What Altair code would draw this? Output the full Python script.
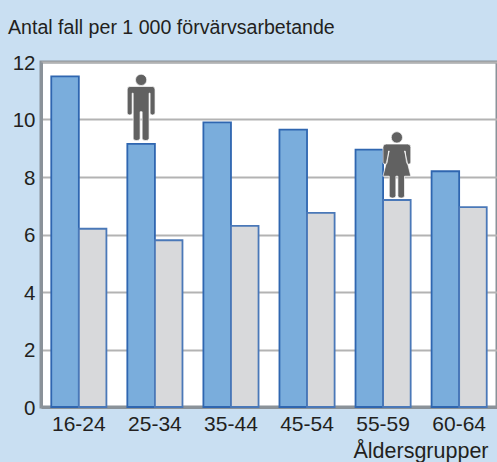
import altair as alt
import pandas as pd

ages = ["16-24", "25-34", "35-44", "45-54", "55-59", "60-64"]
men = [11.5, 9.15, 9.9, 9.65, 8.95, 8.2]
women = [6.2, 5.8, 6.3, 6.75, 7.2, 6.95]
series = ["Män", "Kvinnor"]
BG = "#c9dff2"
FONT = "Liberation Sans"
TXT = "#231f20"

MAN = ("M0,-1 A0.17,0.17 0 1,1 0,-0.66 A0.17,0.17 0 1,1 0,-1 Z "
       "M-0.34,-0.63 L0.34,-0.63 Q0.42,-0.63 0.42,-0.53 L0.42,0.17 Q0.42,0.23 0.34,0.23 Q0.27,0.23 0.27,0.17 "
       "L0.27,-0.43 L0.24,-0.43 L0.24,0.93 Q0.24,1 0.14,1 Q0.03,1 0.03,0.93 L0.03,0.13 L-0.03,0.13 L-0.03,0.93 "
       "Q-0.03,1 -0.14,1 Q-0.24,1 -0.24,0.93 L-0.24,-0.43 L-0.27,-0.43 L-0.27,0.17 Q-0.27,0.23 -0.34,0.23 "
       "Q-0.42,0.23 -0.42,0.17 L-0.42,-0.53 Q-0.42,-0.63 -0.34,-0.63 Z")
WOMAN = ("M0,-1 A0.17,0.17 0 1,1 0,-0.66 A0.17,0.17 0 1,1 0,-1 Z "
         "M-0.32,-0.63 L0.32,-0.63 Q0.42,-0.63 0.42,-0.53 L0.42,-0.08 Q0.42,-0.02 0.35,-0.02 Q0.3,-0.02 0.29,-0.08 "
         "L0.25,-0.42 L0.23,-0.42 L0.42,0.34 L0.23,0.34 L0.23,0.93 Q0.23,1 0.13,1 Q0.03,1 0.03,0.93 L0.03,0.34 "
         "L-0.03,0.34 L-0.03,0.93 Q-0.03,1 -0.13,1 Q-0.23,1 -0.23,0.93 L-0.23,0.34 L-0.42,0.34 L-0.23,-0.42 "
         "L-0.25,-0.42 L-0.29,-0.08 Q-0.3,-0.02 -0.35,-0.02 Q-0.42,-0.02 -0.42,-0.08 L-0.42,-0.53 Q-0.42,-0.63 -0.32,-0.63 Z")

df = pd.DataFrame(
    [{"age": a, "serie": series[0], "v": m} for a, m in zip(ages, men)]
    + [{"age": a, "serie": series[1], "v": w} for a, w in zip(ages, women)]
)

x = alt.X(
    "age:N",
    sort=ages,
    scale=alt.Scale(domain=ages, paddingInner=0.275, paddingOuter=0.135),
    axis=alt.Axis(
        title="Åldersgrupper", titleAnchor="end", titleFont=FONT, titleFontSize=21.5,
        titleFontWeight="normal", titleColor=TXT, titleAlign="right", titleBaseline="alphabetic",
        titleX=447, titleY=50,
        labelFont=FONT, labelFontSize=21, labelColor=TXT, labelPadding=6, labelAngle=0,
        ticks=False, domainColor="#8a9299", domainWidth=3, grid=False,
    ),
)
y = alt.Y(
    "v:Q",
    scale=alt.Scale(domain=[0, 12], nice=False),
    axis=alt.Axis(
        title=None, values=[0, 2, 4, 6, 8, 10, 12], labelFont=FONT, labelFontSize=20.5, labelColor=TXT,
        labelPadding=6, labelOffset=1, ticks=False, domainColor="#8a9299", domainWidth=3,
        grid=True, gridColor="#b3b3b3", gridWidth=2,
    ),
)
xo = alt.XOffset("serie:N", sort=series, scale=alt.Scale(domain=series))

bars = alt.Chart(df).mark_bar(strokeWidth=1.8).encode(
    x=x, xOffset=xo, y=y,
    color=alt.Color("serie:N", scale=alt.Scale(domain=series, range=["#7aaddc", "#d8d9db"]), legend=None),
    stroke=alt.Stroke("serie:N", scale=alt.Scale(domain=series, range=["#2f66b0", "#4a78b8"]), legend=None),
)

man_df = pd.DataFrame({"age": ["25-34"], "serie": [series[0]], "v": [10.42]})
woman_df = pd.DataFrame({"age": ["55-59"], "serie": [series[1]], "v": [8.42]})
icon = dict(filled=True, fill="#616161", opacity=1, stroke="#ffffff", strokeWidth=1, strokeOpacity=0.7, size=4400)
man = alt.Chart(man_df).mark_point(shape=MAN, **icon).encode(x=x, xOffset=xo, y=y)
woman = alt.Chart(woman_df).mark_point(shape=WOMAN, **icon).encode(x=x, xOffset=xo, y=y)

chart = alt.layer(bars, man, woman).properties(
    width=456,
    height=345,
    background=BG,
    padding={"left": 41, "top": 62, "right": 0, "bottom": 55},
    autosize=alt.AutoSizeParams(type="none"),
    title=alt.TitleParams(
        "Antal fall per 1 000 förvärvsarbetande", anchor="start", frame="group", font=FONT, fontSize=19.6,
        fontWeight="normal", color=TXT, dx=-33, offset=14,
    ),
).configure_view(stroke="#8a9299", strokeWidth=3, fill="#ffffff")

chart.save("out.html", embed_options={
    "renderer": "svg", "actions": False,
    "defaultStyle": "html,body{margin:0;background:#c9dff2;overflow:hidden}",
})
